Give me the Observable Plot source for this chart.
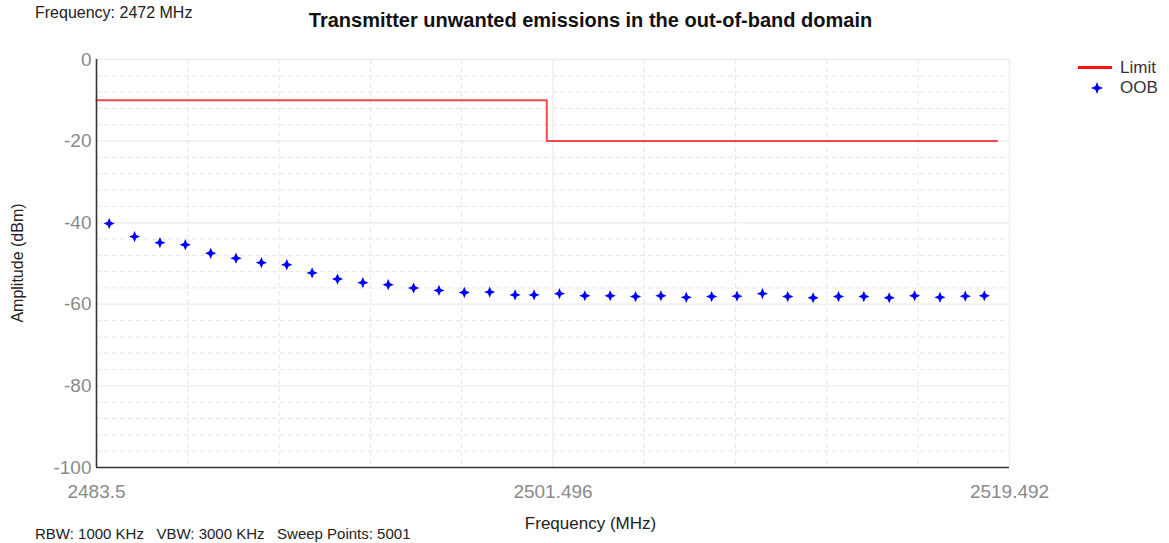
<!DOCTYPE html>
<html>
<head>
<meta charset="utf-8">
<script src="https://cdn.jsdelivr.net/npm/d3@7"></script>
<script src="https://cdn.jsdelivr.net/npm/@observablehq/plot@0.6"></script>
<style>
  html, body { margin: 0; padding: 0; background: #fff; }
  #wrap { position: relative; width: 1169px; height: 543px; overflow: hidden; font-family: "Liberation Sans", Arial, sans-serif; }
  #wrap svg { position: absolute; left: 0; top: 0; }
  .t { position: absolute; white-space: nowrap; color: #111; }
</style>
</head>
<body>
<div id="wrap">
  <div class="t" style="left:35px; top:4px; font-size:16px; color:#222;">Frequency: 2472 MHz</div>
  <div class="t" style="left:0; width:1169px; top:9px; text-align:center; font-size:20px; font-weight:bold; padding-left:12px; box-sizing:border-box;">Transmitter unwanted emissions in the out-of-band domain</div>
  <div class="t" style="left:0; width:1169px; top:514px; text-align:center; font-size:17px; color:#222; padding-left:12px; box-sizing:border-box;">Frequency (MHz)</div>
  <div class="t" style="left:18px; top:263px; font-size:16px; color:#222; transform: translate(-50%,-50%) rotate(-90deg);">Amplitude (dBm)</div>
  <div class="t" style="left:35px; top:525px; font-size:15px; color:#222;">RBW: 1000 KHz&nbsp;&nbsp;&nbsp;VBW: 3000 KHz&nbsp;&nbsp;&nbsp;Sweep Points: 5001</div>
  <div id="legend"></div>
</div>
<script>
// ---- data ----
const xTicks = [2483.5, 2501.496, 2519.492];
const yTicks = [0, -20, -40, -60, -80, -100];

const limitFreq = [2483.5, 2501.25, 2501.25, 2519.0];
const limitAmp  = [-10, -10, -20, -20];

const oobFreq = [2484, 2485, 2486, 2487, 2488, 2489, 2490, 2491, 2492, 2493, 2494, 2495, 2496, 2497, 2498, 2499, 2500,
                 2500.75, 2501.75, 2502.75, 2503.75, 2504.75, 2505.75, 2506.75, 2507.75, 2508.75, 2509.75, 2510.75,
                 2511.75, 2512.75, 2513.75, 2514.75, 2515.75, 2516.75, 2517.75, 2518.5];
const oobAmp  = [-40.2, -43.4, -44.9, -45.4, -47.5, -48.7, -49.8, -50.3, -52.3, -53.8, -54.7, -55.2, -56.0, -56.6, -57.1, -57.0, -57.7,
                 -57.7, -57.4, -57.9, -57.9, -58.1, -57.9, -58.3, -58.1, -58.0, -57.4, -58.1,
                 -58.4, -58.1, -58.1, -58.4, -57.9, -58.3, -58.0, -57.9];

const seriesNames = ["Limit", "OOB"];

// ---- derived tables ----
const limit = limitFreq.map((f, i) => ({f, a: limitAmp[i]}));
const oob = oobFreq.map((f, i) => ({f, a: oobAmp[i]}));

const xDomain = [xTicks[0], xTicks[xTicks.length - 1]];
const yDomain = [yTicks[yTicks.length - 1], yTicks[0]];
const xStep = (xDomain[1] - xDomain[0]) / 10;
const xGrid = d3.range(11).map(i => xDomain[0] + i * xStep);
const xGridMinor = xGrid.filter((d, i) => i % 5 !== 0);
const xGridMajor = xGrid.filter((d, i) => i % 5 === 0 && i > 0);
const yGridMinor = d3.range(-96, 0, 4).filter(v => v % 20 !== 0);
const yGridMajor = yTicks.filter(v => v > yDomain[0]);

// four-pointed star symbol
const star = {
  draw(ctx, size) {
    const r = Math.sqrt(size / Math.PI);
    const q = r * 0.3;
    ctx.moveTo(0, -r);
    ctx.lineTo(q, -q);
    ctx.lineTo(r, 0);
    ctx.lineTo(q, q);
    ctx.lineTo(0, r);
    ctx.lineTo(-q, q);
    ctx.lineTo(-r, 0);
    ctx.lineTo(-q, -q);
    ctx.closePath();
  }
};

const chart = Plot.plot({
  width: 1169,
  height: 543,
  marginLeft: 96,
  marginRight: 160,
  marginTop: 59,
  marginBottom: 76,
  style: { fontFamily: "'Liberation Sans', Arial, sans-serif", fontSize: "19px", color: "#8a8a8a", background: "transparent" },
  x: { domain: xDomain, ticks: xTicks, tickFormat: d => String(d), tickSize: 0, tickPadding: 17, label: null },
  y: { domain: yDomain, ticks: yTicks, tickFormat: d => String(d), tickSize: 0, tickPadding: 5, label: null },
  marks: [
    Plot.ruleY(yGridMinor, { stroke: "#e6e6e6", strokeDasharray: "5,3" }),
    Plot.ruleY(yGridMajor, { stroke: "#eeeeee", strokeWidth: 1.5 }),
    Plot.ruleX(xGridMinor, { stroke: "#e6e6e6", strokeDasharray: "5,3" }),
    Plot.ruleX(xGridMajor, { stroke: "#eeeeee", strokeWidth: 1.5 }),
    Plot.line(limit, { x: "f", y: "a", stroke: "#f24848", strokeWidth: 2, curve: "linear" }),
    Plot.dot(oob, { x: "f", y: "a", symbol: star, r: 5.6, fill: "#0000ff", stroke: "none" }),
    Plot.ruleX([xDomain[0]], { stroke: "#333", strokeWidth: 1.6 }),
    Plot.ruleY([yDomain[0]], { stroke: "#333", strokeWidth: 1.6 })
  ]
});
document.getElementById("wrap").prepend(chart);

// legend
const legend = document.getElementById("legend");
legend.innerHTML = `
  <div style="position:absolute; left:1078px; top:66px; width:34px; height:0; border-top:3px solid #ff1010;"></div>
  <div class="t" style="left:1120px; top:58px; font-size:17px; color:#333;">${seriesNames[0]}</div>
  <svg width="14" height="14" style="position:absolute; left:1090px; top:81px;"><path d="M7,1 L8.7,5.3 L13,7 L8.7,8.7 L7,13 L5.3,8.7 L1,7 L5.3,5.3 Z" fill="#0000ff"/></svg>
  <div class="t" style="left:1120px; top:78px; font-size:17px; color:#333;">${seriesNames[1]}</div>
`;
</script>
</body>
</html>
